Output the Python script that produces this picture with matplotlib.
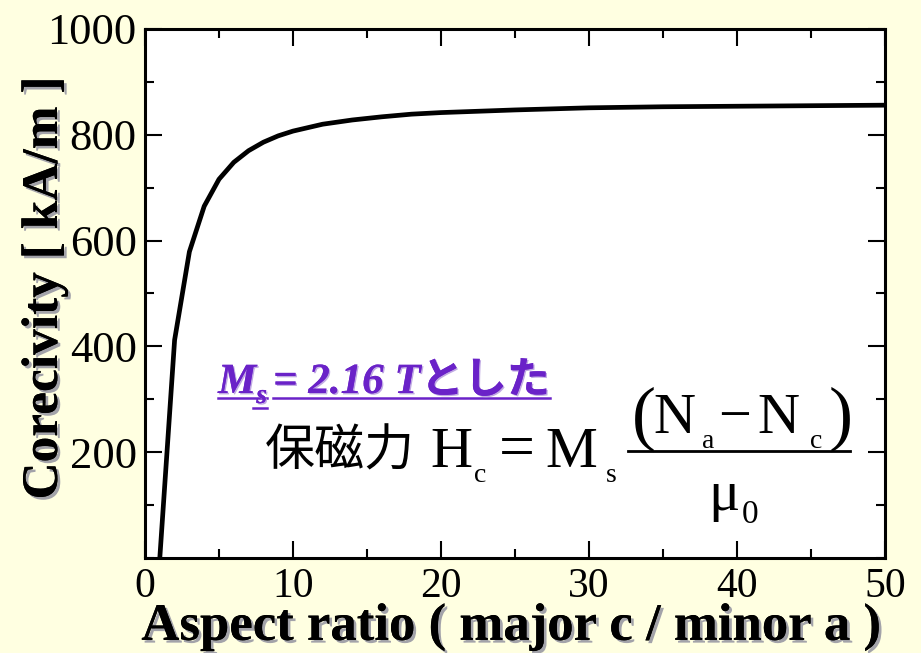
import matplotlib
matplotlib.use("Agg")
import matplotlib.pyplot as plt
from matplotlib import patheffects
from matplotlib.lines import Line2D
from matplotlib.ticker import MultipleLocator

W, H = 921, 653
BG = "#FFFFE1"
PURPLE = "#6A22C8"
SERIF = ["Liberation Serif", "DejaVu Serif"]
CJK = ["Noto Sans CJK JP", "DejaVu Sans"]

# coercivity vs aspect ratio
aspect = [1, 2, 3, 4, 5, 6, 7, 8, 9, 10, 12, 14, 16, 18, 20, 25, 30, 35, 40, 45, 50]
coercivity = [0, 412, 579, 665, 716, 748, 770, 786, 798, 807, 820, 828, 834,
              839, 842, 847, 851, 853, 854, 855, 856]

x_ticks = [0, 10, 20, 30, 40, 50]
y_ticks = [200, 400, 600, 800, 1000]

fig = plt.figure(figsize=(W / 100, H / 100), dpi=100, facecolor=BG)
ax = fig.add_axes([145 / W, (H - 558) / H, 740 / W, (558 - 29) / H])
ax.set_facecolor("white")

ax.plot(aspect, coercivity, color="black", lw=3.4, solid_capstyle="butt")
ax.set_xlim(0, 50)
ax.set_ylim(0, 1000)

ax.set_xticks(x_ticks)
ax.set_yticks(y_ticks)
ax.xaxis.set_minor_locator(MultipleLocator(5))
ax.yaxis.set_minor_locator(MultipleLocator(100))
ax.tick_params(which="both", direction="in", top=True, right=True, width=1.5)
ax.tick_params(which="major", length=12)
ax.tick_params(which="minor", length=6.5)
ax.tick_params(axis="x", pad=7, labelsize=30)
ax.tick_params(axis="y", pad=6, labelsize=32)
for lab in ax.get_xticklabels() + ax.get_yticklabels():
    lab.set_family(SERIF)
for sp in ax.spines.values():
    sp.set_linewidth(2.2)

shadow = [patheffects.withSimplePatchShadow(offset=(2, -2), shadow_rgbFace="#8c8c9c", alpha=0.8),
          patheffects.Normal()]


def put(x, y, s, **kw):
    return fig.text(x / W, 1 - y / H, s, **kw)


put(511, 627, "Aspect ratio ( major c / minor a )", ha="center", va="center",
    fontsize=38, fontweight="bold", family=SERIF, path_effects=shadow)
put(45, 288, "Corecivity [ kA/m ]", ha="center", va="center", rotation=90,
    fontsize=37, fontweight="bold", family=SERIF, path_effects=shadow)

fig.canvas.draw()
renderer = fig.canvas.get_renderer()

# purple note, underlined
pshadow = [patheffects.withSimplePatchShadow(offset=(1, -1), shadow_rgbFace="#b9a0e0", alpha=0.9),
           patheffects.Normal()]
pkw = dict(family=SERIF + CJK, fontweight="bold", style="italic", color=PURPLE,
           path_effects=pshadow)
t_m = put(218, 393, "M", fontsize=31, ha="left", va="baseline", **pkw)
xm = t_m.get_window_extent(renderer).x1
t_s = put(xm, 403, "s", fontsize=20, ha="left", va="baseline", **pkw)
xs = t_s.get_window_extent(renderer).x1
t_r = put(xs + 6, 393, "= 2.16 Tとした", fontsize=31, ha="left", va="baseline", **pkw)
xr = t_r.get_window_extent(renderer).x1


def hline(x0, x1, y, color, lw):
    fig.add_artist(Line2D([x0 / W, x1 / W], [1 - y / H, 1 - y / H], color=color, lw=lw,
                          transform=fig.transFigure))


hline(218, xs, 398, PURPLE, 1.8)
hline(xs - 14, xs, 408, PURPLE, 1.8)
hline(xs + 6, xr, 398, PURPLE, 1.8)

# formula  保磁力 Hc = Ms (Na - Nc) / mu0
put(265, 451, "保磁力", fontsize=36, ha="left", va="center", family=CJK, color="black")
pieces = [
    ("H", 430, 467, 42), ("c", 474, 482, 20), ("=", 499, 467, 46),
    ("M", 545, 467, 42), ("s", 606, 482, 20),
    ("(", 632, 437, 52), ("N", 653, 433, 42), ("a", 702, 448, 20),
    ("\u2212", 718, 433, 42), ("N", 757, 433, 42), ("c", 810, 448, 20),
    (")", 829, 437, 52),
    ("\u03bc", 708, 510, 42), ("0", 742, 523, 24),
]
for s, x, y, size in pieces:
    put(x, y, s, fontsize=size, ha="left", va="baseline", family=SERIF, color="black")
hline(628, 850, 451, "black", 2)

fig.savefig("out.png", dpi=100, facecolor=BG)
